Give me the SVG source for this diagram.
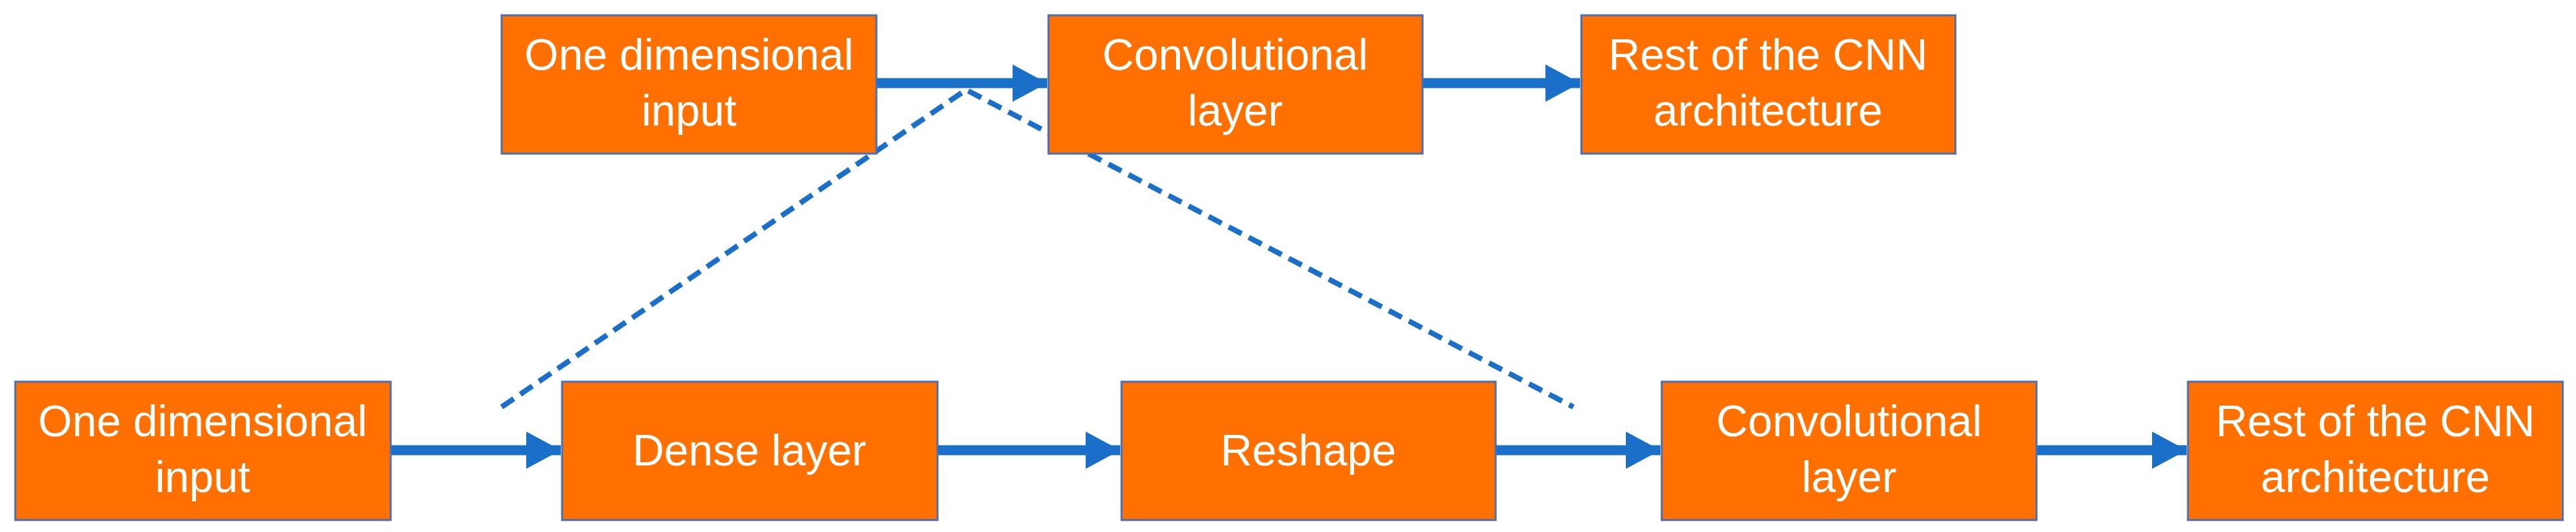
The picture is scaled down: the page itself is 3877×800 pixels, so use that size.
<svg xmlns="http://www.w3.org/2000/svg" width="3877" height="800" viewBox="0 0 3877 800">
<style>
.b{fill:#FF7000;stroke:#4A6FB5;stroke-width:3}
.t{font-family:"Liberation Sans Narrow","Liberation Sans",sans-serif;font-size:66px;fill:#fff;text-anchor:middle}
.c{stroke:#1A6FC9;stroke-width:15;fill:none}
.d{stroke:#1A6FC9;stroke-width:8;fill:none;stroke-dasharray:22 12}
</style>
<defs><marker id="a" markerUnits="userSpaceOnUse" markerWidth="54" markerHeight="56" refX="52" refY="28" orient="auto"><path d="M0,0 L52,28 L0,56 Z" fill="#1A6FC9"/></marker></defs>
<rect width="3877" height="800" fill="#fff"/>
<g id="connectors">
<line class="c" x1="1319" y1="125" x2="1576" y2="125" marker-end="url(#a)"/>
<line class="c" x1="2141" y1="125" x2="2378" y2="125" marker-end="url(#a)"/>
<line class="c" x1="588" y1="677" x2="844" y2="677" marker-end="url(#a)"/>
<line class="c" x1="1411" y1="677" x2="1686" y2="677" marker-end="url(#a)"/>
<line class="c" x1="2251" y1="677" x2="2499" y2="677" marker-end="url(#a)"/>
<line class="c" x1="3065" y1="677" x2="3291" y2="677" marker-end="url(#a)"/>
<polyline class="d" points="755,612 1454,135 2368,612"/>
</g>
<g id="top-input"><rect class="b" x="755" y="23" width="564" height="208"/><text class="t" x="1037" y="105">One dimensional</text><text class="t" x="1037" y="189">input</text></g>
<g id="top-conv"><rect class="b" x="1578" y="23" width="563" height="208"/><text class="t" x="1859" y="105">Convolutional</text><text class="t" x="1859" y="189">layer</text></g>
<g id="top-rest"><rect class="b" x="2380" y="23" width="563" height="208"/><text class="t" x="2661" y="105">Rest of the CNN</text><text class="t" x="2661" y="189">architecture</text></g>
<g id="bot-input"><rect class="b" x="23" y="574" width="565" height="208"/><text class="t" x="305" y="656">One dimensional</text><text class="t" x="305" y="740">input</text></g>
<g id="bot-dense"><rect class="b" x="846" y="574" width="565" height="208"/><text class="t" x="1128" y="700">Dense layer</text></g>
<g id="bot-reshape"><rect class="b" x="1688" y="574" width="563" height="208"/><text class="t" x="1969" y="700">Reshape</text></g>
<g id="bot-conv"><rect class="b" x="2501" y="574" width="564" height="208"/><text class="t" x="2783" y="656">Convolutional</text><text class="t" x="2783" y="740">layer</text></g>
<g id="bot-rest"><rect class="b" x="3293" y="574" width="564" height="208"/><text class="t" x="3575" y="656">Rest of the CNN</text><text class="t" x="3575" y="740">architecture</text></g>
</svg>
